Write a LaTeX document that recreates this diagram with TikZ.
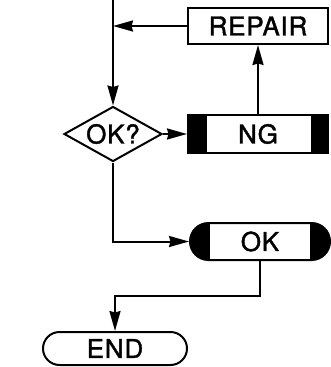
\documentclass[tikz,border=0pt]{standalone}
\usepackage{fontspec}
\setmainfont{TeX Gyre Heros}[FakeBold=1.5, LetterSpace=3]
\usetikzlibrary{shapes.geometric, shapes.misc, arrows.meta}
\tikzset{
    base/.style={draw, line width=2pt, minimum width=140pt, minimum height=37pt, inner sep=0pt, font=\fontsize{26}{28}\selectfont},
    decision/.style={base, diamond, minimum width=98pt, minimum height=55pt, aspect=1.76},
    process/.style={base, rectangle},
    banded/.style={base, rectangle, path picture={
        \fill (path picture bounding box.south west) rectangle ([xshift=19pt]path picture bounding box.north west);
        \fill (path picture bounding box.south east) rectangle ([xshift=-17pt]path picture bounding box.north east);}},
    capped/.style={base, rounded rectangle, path picture={
        \fill (path picture bounding box.south west) rectangle ([xshift=20pt]path picture bounding box.north west);
        \fill (path picture bounding box.south east) rectangle ([xshift=-20pt]path picture bounding box.north east);}},
    terminal/.style={base, rounded rectangle},
    arrow/.style={-{Stealth[length=20pt, width=11pt, inset=1.5pt]}, line width=2pt}
}

\begin{document}
\begin{tikzpicture}[x=1pt, y=-1pt]
\useasboundingbox (0,0) rectangle (330,367);
\node[process, minimum height=36pt] (repair) at (258,26) {REPAIR};
\node[decision] (check) at (113,134) {OK?};
\node[banded, minimum height=38pt] (ng) at (258,134) {NG};
\node[capped] (ok) at (260,241.5) {OK};
\node[terminal, minimum width=144pt, minimum height=33pt] (stop) at (115,348.5) {END};
\coordinate (top) at (113,0);
\coordinate (join) at (top |- repair.west);
\draw[arrow] (top) -- (check.north);
\draw[arrow] (repair) -- (join);
\draw[arrow] (check) -- (ng);
\draw[arrow] (ng.north) -- (repair.south);
\draw[arrow] (check.south) |- (ok);
\draw[arrow] (ok.south) -- ++(0,35) -| (stop.north);
\end{tikzpicture}
\end{document}
